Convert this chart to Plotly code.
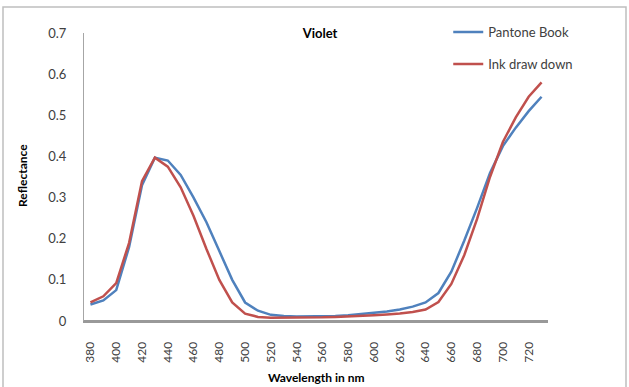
import plotly.graph_objects as go

wavelength = list(range(380, 740, 10))
pantone_book = [0.040, 0.050, 0.075, 0.180, 0.330, 0.397, 0.390, 0.355, 0.300, 0.240,
                0.170, 0.100, 0.045, 0.025, 0.015, 0.012, 0.011, 0.011, 0.011, 0.012,
                0.014, 0.017, 0.020, 0.023, 0.028, 0.035, 0.045, 0.068, 0.120, 0.195,
                0.275, 0.360, 0.425, 0.470, 0.510, 0.545]
ink_draw_down = [0.045, 0.060, 0.092, 0.190, 0.340, 0.397, 0.375, 0.325, 0.255, 0.175,
                 0.100, 0.045, 0.018, 0.010, 0.008, 0.008, 0.008, 0.008, 0.009, 0.010,
                 0.011, 0.013, 0.014, 0.016, 0.018, 0.022, 0.028, 0.046, 0.090, 0.160,
                 0.248, 0.350, 0.435, 0.495, 0.545, 0.580]
x_ticks = list(range(380, 740, 20))
y_ticks = [0, 0.1, 0.2, 0.3, 0.4, 0.5, 0.6, 0.7]

FONT = "Lato"
L, R, T, B = 84, 548, 33, 321
PW, PH = R - L, B - T

fig = go.Figure()
fig.add_trace(go.Scatter(x=wavelength, y=pantone_book, mode="lines", name="Pantone Book",
                         legendgroup="a",
                         line=dict(color="#4F81BD", width=2.5)))
fig.add_trace(go.Scatter(x=wavelength, y=ink_draw_down, mode="lines", name="Ink draw down",
                         legendgroup="b",
                         line=dict(color="#C0504D", width=2.5)))

fig.update_layout(
    width=629, height=387,
    margin=dict(l=L, r=629 - R, t=T, b=387 - B),
    paper_bgcolor="white", plot_bgcolor="white",
    font=dict(family=FONT, size=12, color="#404040"),
    showlegend=True,
    legend=dict(x=0.785, y=1.055, xanchor="left", yanchor="top",
                bgcolor="rgba(0,0,0,0)", font=dict(size=13, color="#404040"),
                tracegroupgap=12, itemwidth=30),
    title=dict(text="<b>Violet</b>", x=320 / 629, xanchor="center",
               y=1 - 33 / 387, yanchor="middle", font=dict(size=13, color="#000000")),
    xaxis=dict(range=[375, 735], tickmode="array", tickvals=x_ticks,
               ticktext=[str(v) for v in x_ticks], tickangle=-90,
               showgrid=False, zeroline=False, showline=True, linecolor="#999999",
               linewidth=2, ticks="outside", ticklen=14, tickcolor="rgba(255,255,255,0)",
               automargin=False,
               tickfont=dict(size=12, color="#404040")),
    yaxis=dict(range=[0, 0.7], tickmode="array", tickvals=y_ticks,
               ticktext=["0", "0.1", "0.2", "0.3", "0.4", "0.5", "0.6", "0.7"],
               showgrid=False, zeroline=False,
               showline=True, linecolor="#a6a6a6",
               linewidth=1, ticks="outside", ticklen=14, tickcolor="rgba(255,255,255,0)",
               automargin=False,
               tickfont=dict(size=13, color="#404040")),
    annotations=[
        dict(text="<b>Wavelength in nm</b>", xref="paper", yref="paper",
             x=(316 - L) / PW, y=(B - 377) / PH, xanchor="center", yanchor="middle",
             showarrow=False, font=dict(size=12, color="#000000")),
        dict(text="<b>Reflectance</b>", xref="paper", yref="paper",
             x=(22 - L) / PW, y=(B - 176) / PH, xanchor="center", yanchor="middle",
             textangle=-90, showarrow=False, font=dict(size=12, color="#000000")),
    ],
    shapes=[dict(type="rect", xref="paper", yref="paper",
                 x0=(3 - L) / PW, x1=(626 - L) / PW,
                 y0=(B - 400) / PH, y1=(B - 7) / PH,
                 line=dict(color="#bfbfbf", width=1.5), fillcolor="rgba(0,0,0,0)",
                 layer="below"),
            dict(type="line", xref="paper", yref="paper", x0=0, x1=1,
                 y0=0, y1=0,
                 line=dict(color="#999999", width=2), layer="above")],
)

fig.write_html("out.html")
